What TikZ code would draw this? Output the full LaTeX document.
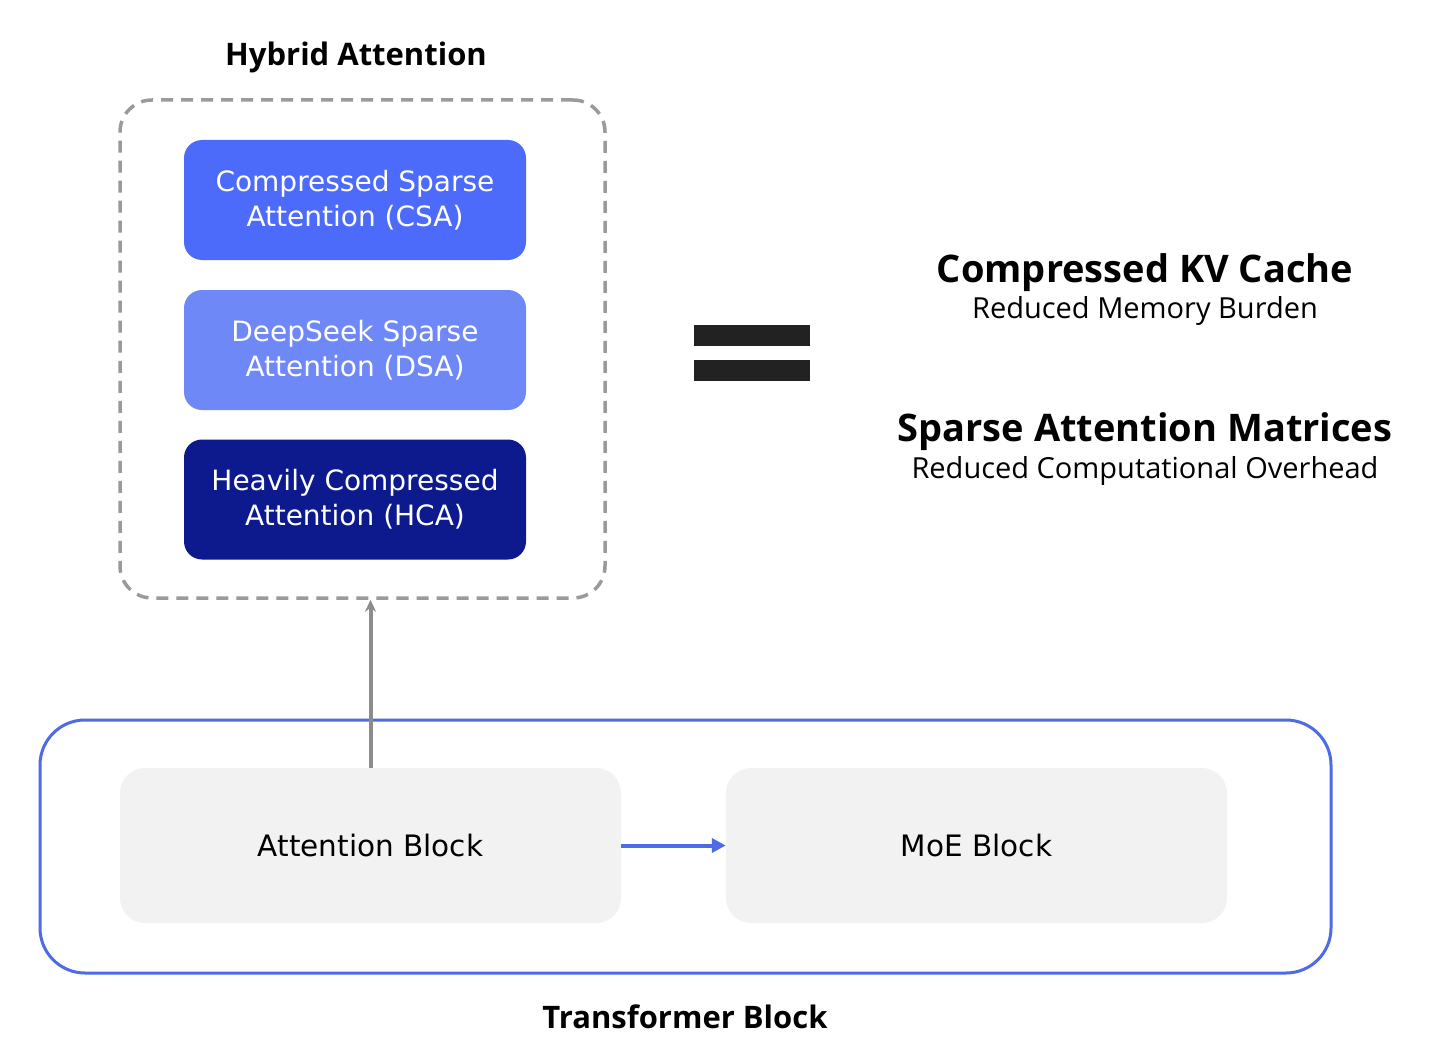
\documentclass[tikz,border=0pt]{standalone}
\usepackage{fontspec}
\setmainfont{Open Sans}
\newfontfamily\boxfont{DejaVu Sans}
\usetikzlibrary{arrows.meta}
\definecolor{csa}{HTML}{4D6BFA}
\definecolor{dsa}{HTML}{6F88F7}
\definecolor{hca}{HTML}{0C1A8E}
\definecolor{tblue}{HTML}{4F6AE6}
\definecolor{dgray}{HTML}{9A9A9A}
\definecolor{agray}{HTML}{8C8C8C}
\definecolor{lgray}{HTML}{F2F2F2}
\definecolor{eqc}{HTML}{222222}
\tikzset{
  attbox/.style={rounded corners=18pt, minimum width=342pt, minimum height=120pt, align=center, text=white, inner sep=0pt,
    font=\boxfont\fontsize{28}{35}\selectfont},
  graybox/.style={rounded corners=25pt, fill=lgray, minimum width=501pt, minimum height=155pt, inner sep=0pt,
    font=\boxfont\fontsize{29.5}{32}\selectfont},
  headline/.style={font=\bfseries\fontsize{38}{42}\selectfont, inner sep=0pt, anchor=base},
  subline/.style={font=\fontsize{29}{32}\selectfont, inner sep=0pt, anchor=base},
}
\begin{document}
\begin{tikzpicture}[x=1pt,y=-1pt]
\useasboundingbox (0,0) rectangle (1440,1054);
% title
\node[font=\bfseries\fontsize{31}{34}\selectfont, inner sep=0pt, anchor=base west] (title) at (225,66) {Hybrid Attention};
% dashed container
\node[draw=dgray, line width=3.5pt, dash pattern=on 12pt off 8pt, rounded corners=32pt,
  minimum width=485pt, minimum height=498pt, inner sep=0pt] (hyb) at (362.5,349) {};
% attention variants
\node[attbox, fill=csa] (csa) at (355,200) {Compressed Sparse\\Attention (CSA)};
\node[attbox, fill=dsa] (dsa) at (355,350) {DeepSeek Sparse\\Attention (DSA)};
\node[attbox, fill=hca] (hca) at (355,499.5) {Heavily Compressed\\Attention (HCA)};
% equals sign
\fill[eqc] (694,325) rectangle (810,346);
\fill[eqc] (694,360) rectangle (810,381);
% right text
\node[headline] (kv) at (1145,282) {Compressed KV Cache};
\node[subline] (kvs) at (1145,318) {Reduced Memory Burden};
\node[headline] (sam) at (1145,441) {Sparse Attention Matrices};
\node[subline] (sams) at (1145,478) {Reduced Computational Overhead};
% transformer block
\node[draw=tblue, line width=3pt, rounded corners=45pt, minimum width=1291pt, minimum height=253pt, inner sep=0pt] (tb) at (685.5,846.5) {};
\node[graybox] (att) at (370.5,845.5) {Attention Block};
\node[graybox] (moe) at (976.5,845.5) {MoE Block};
\draw[agray, line width=4pt, -{Stealth[length=12pt,width=11pt]}] (att.north) -- (hyb.south -| att.north);
\draw[tblue, line width=4pt, -{Triangle[length=14pt,width=14pt]}] (att.east) -- (moe.west);
\node[font=\bfseries\fontsize{31}{34}\selectfont, inner sep=0pt, anchor=base] (tbl) at (685,1028) {Transformer Block};
\end{tikzpicture}
\end{document}
